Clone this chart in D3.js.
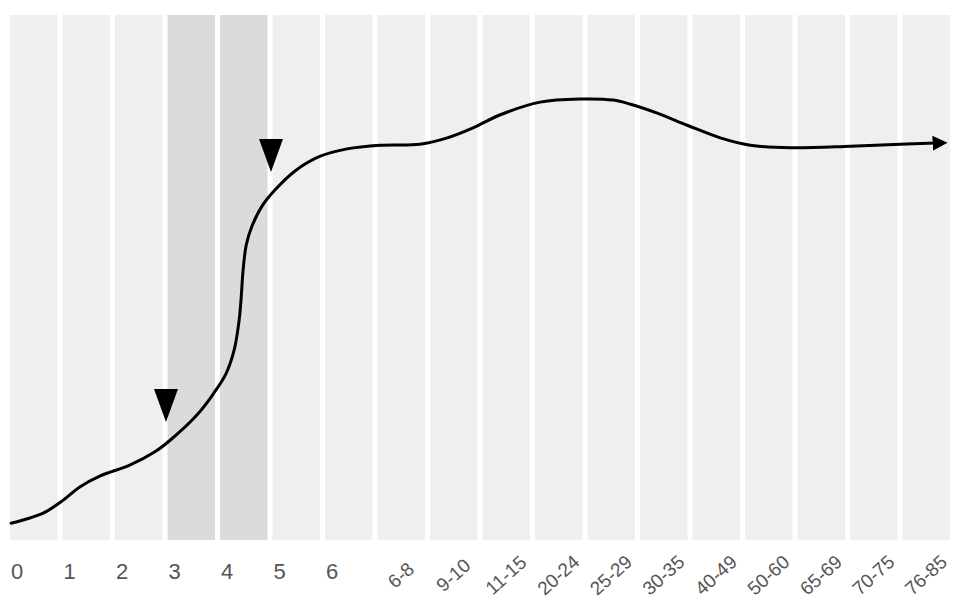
<!DOCTYPE html>
<html><head><meta charset="utf-8">
<script src="https://cdn.jsdelivr.net/npm/d3@7"></script>
<style>html,body{margin:0;padding:0;background:#fff;}svg{display:block;}</style>
</head><body>
<svg id="chart" width="954" height="601"></svg>
<script>
// Age categories (x axis tick labels)
const categories = ["0","1","2","3","4","5","6","6-8","9-10","11-15","20-24","25-29","30-35","40-49","50-60","65-69","70-75","76-85"];
// highlighted categories (darker bands)
const highlighted = ["3","4"];
// curve: position along the age axis (in category units) and relative level (0-100)
const curveT = [0.02,0.38,0.67,0.99,1.33,1.72,2.29,2.76,3.05,3.56,3.87,4.12,4.27,4.36,4.40,4.44,4.50,4.61,4.80,5.05,5.43,5.91,6.42,7.05,7.81,8.33,8.82,9.34,10.10,10.86,11.49,11.82,12.33,12.90,13.53,14.10,14.87,16.01,16.96,17.63];
const curveV = [3.2,4.2,5.3,7.4,10.1,12.2,14.3,16.8,19.0,23.8,27.8,31.8,36.2,41.5,45.7,51.4,56.2,59.8,63.6,66.7,70.3,73.1,74.5,75.2,75.4,76.6,78.5,81.0,83.4,84.0,83.8,83.0,81.3,79.0,76.6,75.2,74.7,75.0,75.4,75.6];
// downward markers: age position and level of the tip
const markerT = [3, 5];
const markerV = [22.5, 70.1];

const svg = d3.select("#chart");
const x = d3.scaleBand().domain(categories).range([10, 950]).paddingInner(0.095).paddingOuter(0);
const xLin = d3.scaleLinear().domain([0, categories.length]).range([x.range()[0], x.range()[0] + categories.length * x.step()]);
const y = d3.scaleLinear().domain([0, 100]).range([540, 15]);

// bands
svg.append("g").selectAll("rect").data(categories).join("rect")
  .attr("x", d => x(d)).attr("y", y(100))
  .attr("width", x.bandwidth()).attr("height", y(0) - y(100))
  .attr("fill", d => highlighted.includes(d) ? "#dbdbdb" : "#efefef");

// curve
const pts = curveT.map((t, i) => [xLin(t), y(curveV[i])]);
const line = d3.line().curve(d3.curveCatmullRom.alpha(0.5));
svg.append("defs").append("marker")
  .attr("id", "arrow").attr("viewBox", "0 0 10 10").attr("refX", 2).attr("refY", 5)
  .attr("markerWidth", 5).attr("markerHeight", 5).attr("orient", "auto")
  .attr("markerUnits", "strokeWidth")
  .append("path").attr("d", "M0,0L10,5L0,10Z").attr("fill", "#000");
svg.append("path").attr("d", line(pts)).attr("fill", "none")
  .attr("stroke", "#000").attr("stroke-width", 3).attr("stroke-linecap", "round")
  .attr("marker-end", "url(#arrow)");

// triangles
svg.append("g").selectAll("path").data(markerT).join("path")
  .attr("transform", (t, i) => `translate(${xLin(t) - 1.5},${y(markerV[i])})`)
  .attr("d", "M0,0L-12,-33L12,-33Z").attr("fill", "#000");

// axis labels
const ax = svg.append("g").attr("font-family", "'Liberation Sans', Arial, sans-serif").attr("fill", "#555");
const straight = categories.slice(0, 7);
const rotated = categories.slice(7);
ax.selectAll("text.s").data(straight).join("text").attr("class", "s")
  .attr("x", d => x(d) + 1).attr("y", 579)
  .attr("font-size", 22).text(d => d);
ax.selectAll("text.r").data(rotated).join("text").attr("class", "r")
  .attr("transform", d => `translate(${x(d) + x.bandwidth() / 2 + 4},${580}) rotate(-42)`)
  .attr("text-anchor", "middle").attr("font-size", 19).text(d => d);
</script>
</body></html>
